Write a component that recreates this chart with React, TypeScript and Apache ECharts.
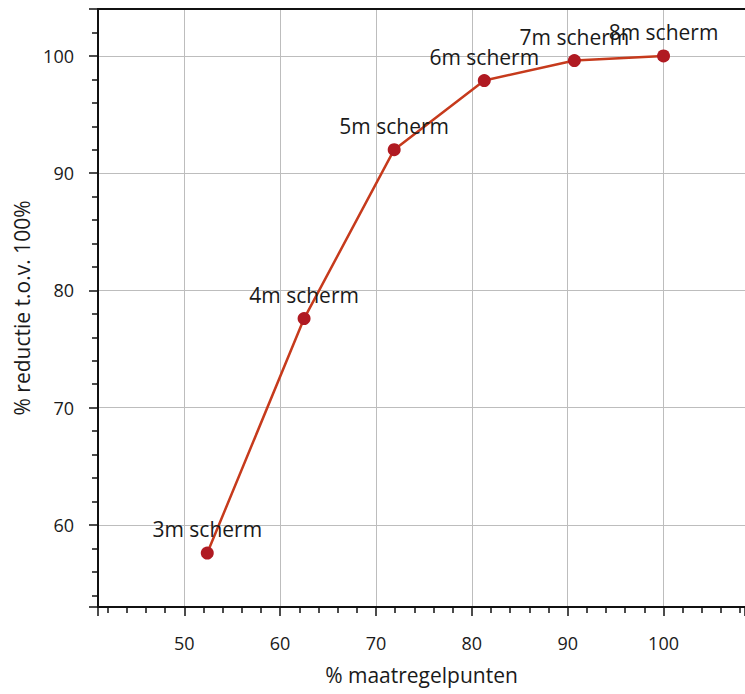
import React, { useEffect, useRef } from "react";
import * as echarts from "echarts";

const labels = ["3m scherm", "4m scherm", "5m scherm", "6m scherm", "7m scherm", "8m scherm"];
const maatregelpunten = [52.4, 62.5, 71.9, 81.3, 90.7, 100];
const reductie = [57.6, 77.6, 92.0, 97.9, 99.6, 100];

const FONT = "'Open Sans', 'Noto Sans', sans-serif";

export default function App() {
  const ref = useRef<HTMLDivElement>(null);
  useEffect(() => {
    if (!ref.current) return;
    const chart = echarts.init(ref.current, null, { renderer: "svg" });
    const data = labels.map((n, i) => ({ name: n, value: [maatregelpunten[i], reductie[i]] }));
    chart.setOption({
      animation: false,
      backgroundColor: "#ffffff",
      grid: { left: 98, right: 0, top: 9, bottom: 87, containLabel: false },
      xAxis: [
        {
          type: "value",
          min: 41,
          max: 108.5,
          position: "bottom",
          name: "% maatregelpunten",
          nameLocation: "middle",
          nameGap: 57,
          nameTextStyle: { fontFamily: FONT, fontSize: 21, color: "#1a1a1a" },
          axisLine: { show: true, onZero: false, lineStyle: { color: "#111", width: 2 } },
          axisTick: { show: true, length: 9, lineStyle: { color: "#111", width: 1.5 } },
          minorTick: { show: true, splitNumber: 5, length: 6, lineStyle: { color: "#111", width: 1.5 } },
          splitLine: { show: true, lineStyle: { color: "#bdbdbd", width: 1 } },
          axisLabel: {
            show: true,
            showMinLabel: false,
            showMaxLabel: false,
            margin: 27,
            fontFamily: FONT,
            fontSize: 18,
            color: "#1a1a1a",
          },
        },
        {
          type: "value",
          min: 41,
          max: 108.5,
          position: "top",
          axisLine: { show: true, onZero: false, lineStyle: { color: "#111", width: 2 } },
          axisTick: { show: false },
          axisLabel: { show: false },
          splitLine: { show: false },
        },
      ],
      yAxis: {
        type: "value",
        min: 53,
        max: 104,
        name: "% reductie t.o.v. 100%",
        nameLocation: "middle",
        nameGap: 60,
        nameTextStyle: { fontFamily: FONT, fontSize: 21, color: "#1a1a1a" },
        axisLine: { show: true, onZero: false, lineStyle: { color: "#111", width: 2 } },
        axisTick: { show: true, length: 9, lineStyle: { color: "#111", width: 1.5 } },
        minorTick: { show: true, splitNumber: 5, length: 6, lineStyle: { color: "#111", width: 1.5 } },
        splitLine: { show: true, lineStyle: { color: "#bdbdbd", width: 1 } },
        axisLabel: {
          show: true,
          showMinLabel: false,
          showMaxLabel: false,
          margin: 24,
          fontFamily: FONT,
          fontSize: 18,
          color: "#1a1a1a",
        },
      },
      series: [
        {
          type: "line",
          data,
          symbol: "circle",
          symbolSize: 13,
          lineStyle: { color: "#c63a1c", width: 2.5 },
          itemStyle: { color: "#b01a22" },
          label: {
            show: true,
            position: "top",
            distance: 7,
            formatter: "{b}",
            fontFamily: FONT,
            fontSize: 21,
            color: "#1a1a1a",
          },
        },
      ],
    });
    return () => chart.dispose();
  }, []);
  return (
    <div
      ref={ref}
      style={{ position: "fixed", left: 0, top: 0, width: 745, height: 694, background: "#fff" }}
    />
  );
}
